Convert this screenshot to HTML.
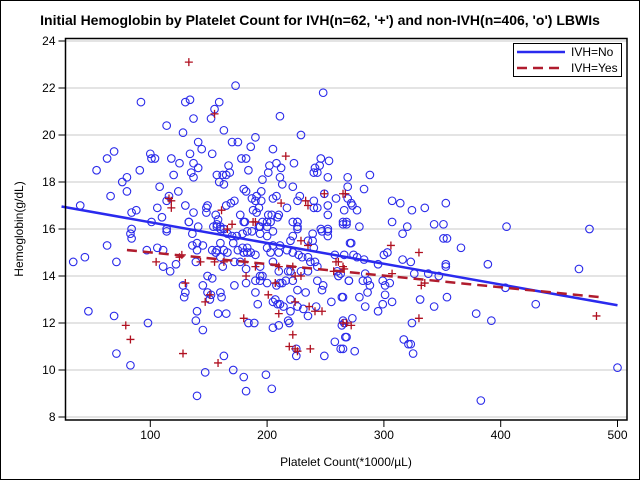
<!DOCTYPE html>
<html><head><meta charset="utf-8"><style>
html,body{margin:0;padding:0;background:#fff;}
svg{display:block;font-family:"Liberation Sans",sans-serif;}
</style></head><body>
<svg id="chart" width="640" height="480" viewBox="0 0 640 480">
<rect x="0.5" y="0.5" width="639" height="479" fill="#fff" stroke="#000"/>
<text x="320" y="25" text-anchor="middle" font-size="14" font-weight="bold">Initial Hemoglobin by Platelet Count for IVH(n=62, '+') and non-IVH(n=406, 'o') LBWIs</text>
<g id="grid"></g>
<g id="marks"></g>
<g id="axes"></g>
<text x="346" y="466" text-anchor="middle" font-size="12">Platelet Count(*1000/µL)</text>
<text transform="translate(23,229) rotate(-90)" text-anchor="middle" font-size="12">Hemoglobin(g/dL)</text>
<g>
<rect x="513.5" y="43.5" width="108" height="33" fill="#fff" stroke="#000"/>
<g><line x1="517" y1="52" x2="565" y2="52" stroke="#2a2aee" stroke-width="2.5"/><text x="571" y="56" font-size="12">IVH=No</text></g>
<g><line x1="517" y1="68" x2="565" y2="68" stroke="#b01c2e" stroke-width="2.5" stroke-dasharray="10,6"/><text x="571" y="72" font-size="12">IVH=Yes</text></g>
</g>
</svg>
<script>
const xTicks=[100,200,300,400,500];
const yTicks=[8,10,12,14,16,18,20,22,24];
const fitNo=[17.17,-0.00883];
const fitYes=[15.5,-0.00495];
const xRangeNo=[24,500];
const xRangeYes=[80,484];
const ivhYes=[[133,23.1],[155,20.9],[216,19.1],[116,17.3],[118,17.2],[118,16.9],[161,16.8],[212,17.1],[233,17.2],[235,17.0],[249,17.5],[265,17.5],[267,17.5],[188,16.3],[170,16.2],[79,11.9],[83,11.3],[105,14.6],[125,14.8],[127,14.9],[128,10.7],[130,13.7],[143,14.6],[147,12.9],[151,13.2],[158,10.3],[180,12.2],[155,14.6],[163,14.6],[181,14.6],[190,16.3],[166,16.0],[190,14.4],[182,14.0],[201,13.2],[210,12.4],[207,13.7],[210,14.4],[229,15.5],[235,15.3],[222,14.4],[224,14.0],[229,14.0],[224,12.9],[236,12.7],[241,12.5],[247,12.5],[222,11.5],[219,11.0],[224,10.9],[226,10.8],[237,10.9],[265,12.0],[259,14.6],[261,14.6],[266,14.3],[257,14.2],[265,14.4],[306,15.3],[330,15.0],[332,13.6],[335,13.7],[307,14.1],[330,12.2],[482,12.3],[268,12.0],[272,11.9]];
const ivhNo=[[173,22.1],[248,21.8],[92,21.4],[130,21.4],[134,21.5],[159,21.4],[155,21.1],[152,20.7],[137,20.7],[114,20.4],[163,20.2],[211,20.8],[128,20.1],[229,20.0],[190,19.9],[141,19.7],[170,19.7],[175,19.7],[144,19.4],[69,19.3],[63,19.0],[100,19.2],[101,19.0],[104,19.0],[118,19.0],[134,19.2],[153,19.2],[186,19.5],[205,19.4],[178,19.0],[182,19.0],[246,19.0],[253,18.9],[54,18.5],[91,18.5],[125,18.8],[137,18.8],[141,18.6],[80,18.2],[76,18.0],[120,18.3],[135,18.4],[137,18.2],[167,18.7],[157,18.3],[162,18.3],[168,18.4],[165,18.3],[159,18.0],[163,17.9],[184,18.5],[202,18.7],[201,18.4],[208,18.8],[212,18.6],[223,18.8],[211,18.2],[213,17.9],[240,18.4],[243,18.4],[241,18.6],[245,18.7],[252,18.2],[269,18.2],[80,17.6],[66,17.4],[108,17.8],[124,17.6],[116,17.4],[114,17.2],[106,16.9],[130,17.0],[84,16.7],[88,16.8],[101,16.3],[110,16.5],[137,16.7],[148,16.9],[149,17.0],[148,16.7],[156,16.6],[158,16.4],[165,17.0],[169,17.1],[172,17.2],[180,17.7],[182,17.6],[191,17.4],[187,17.3],[190,17.2],[195,17.6],[195,17.2],[177,16.6],[181,16.3],[188,16.8],[191,16.7],[193,16.9],[196,18.1],[208,17.4],[205,17.3],[217,16.9],[222,17.8],[228,17.4],[226,17.2],[240,17.2],[240,16.9],[243,16.9],[249,17.5],[252,17.0],[252,16.6],[259,17.3],[266,16.8],[269,17.3],[269,17.8],[201,16.6],[204,16.6],[210,16.6],[209,16.5],[40,17.0],
[34,14.6],[44,14.8],[47,12.5],[63,15.3],[71,14.6],[69,12.3],[71,10.7],[83,10.2],[84,16.0],[83,15.8],[84,15.6],[97,15.1],[98,12.0],[106,15.2],[111,15.1],[111,14.4],[114,15.9],[117,14.2],[122,14.5],[128,13.6],[130,13.3],[129,13.1],[133,16.3],[136,15.8],[136,15.3],[140,15.4],[145,15.3],[140,15.1],[139,14.6],[140,12.5],[139,12.1],[140,8.9],[145,11.7],[147,9.9],[145,13.6],[149,14.0],[153,13.9],[149,13.3],[152,13.2],[151,13.0],[158,12.4],[165,12.4],[160,13.3],[161,13.1],[163,10.6],[171,10.0],[180,9.7],[182,9.1],[184,12.0],[189,12.0],[172,13.6],[154,16.1],[157,16.2],[160,16.1],[163,16.0],[166,15.8],[170,15.7],[171,15.4],[160,15.4],[157,15.1],[163,15.1],[166,15.0],[160,14.8],[156,15.0],[153,15.1],[162,14.4],[172,14.6],[177,14.6],[180,15.0],[183,15.0],[186,15.0],[190,14.9],[183,15.2],[179,15.2],[175,15.1],[174,15.7],[179,15.8],[183,15.9],[187,15.9],[194,15.8],[200,15.7],[205,15.9],[200,16.1],[194,16.1],[180,16.3],[182,14.3],[194,14.4],[182,13.7],[190,13.8],[194,13.8],[194,14.0],[196,14.0],[200,13.7],[190,13.3],[192,12.8],[205,12.9],[209,12.8],[207,13.0],[211,12.8],[214,12.7],[205,11.8],[210,11.9],[199,9.8],[204,9.2],[211,13.7],[208,13.6],[213,13.7],[205,14.6],[210,14.2],[203,15.0],[210,15.0],[205,15.3],[211,15.3],[200,15.2],[217,15.1],[222,15.0],[227,14.9],[220,15.5],[222,15.7],[226,16.0],[226,16.3],[239,15.8],[235,15.5],[230,14.8],[235,14.8],[237,14.6],[241,14.6],[243,14.4],[235,14.2],[229,14.2],[218,14.2],[220,14.2],[222,13.8],[216,13.8],[226,13.4],[233,13.3],[243,13.8],[248,13.6],[247,13.4],[255,12.9],[264,13.1],[220,13.0],[220,12.5],[226,12.7],[231,12.6],[235,12.3],[242,12.7],[218,12.1],[219,12.0],[225,10.6],[225,10.9],[249,10.6],[258,11.2],[263,10.9],[267,11.4],[264,11.9],[265,12.1],[260,14.2],[261,14.0],[270,13.8],[268,16.2],[265,16.2],[271,15.4],[252,15.9],[247,15.9],[252,15.7],[239,15.5],[240,15.2],[258,14.9],[266,14.9],[222,16.3],[226,16.3],[226,16.1],[252,16.0],[246,16.0],[265,16.3],[268,16.3],[203,16.3],[200,16.3],[196,16.3],[193,16.1],[157,16.1],[160,16.0],[133,16.3],[141,16.1],[114,16.0],
[288,18.3],[283,17.7],[272,17.1],[273,17.0],[277,16.8],[307,17.2],[314,17.1],[324,16.8],[335,16.9],[353,17.1],[279,16.1],[307,16.3],[320,16.1],[316,15.8],[343,16.2],[351,16.2],[351,15.6],[354,15.6],[366,15.2],[405,16.1],[476,16.0],[272,15.4],[274,14.9],[277,14.8],[283,14.7],[300,14.9],[303,15.0],[295,14.5],[316,14.7],[323,14.6],[326,14.1],[338,14.1],[347,14.0],[353,14.5],[353,14.4],[389,14.5],[467,14.3],[263,14.1],[270,13.8],[282,13.8],[284,14.1],[286,13.8],[288,13.6],[286,13.3],[279,13.1],[265,13.1],[299,13.8],[301,13.6],[305,13.7],[301,13.2],[299,12.8],[295,12.5],[307,12.9],[284,12.7],[331,13.0],[343,12.7],[354,13.1],[404,13.5],[430,12.8],[379,12.4],[392,12.1],[266,12.0],[273,12.2],[324,12.0],[268,11.4],[265,10.9],[275,10.8],[317,11.3],[321,11.1],[323,11.1],[325,10.7],[383,8.7],[500,10.1]];

const NS='http://www.w3.org/2000/svg';
const L=65.5,R=627,T=38.5,B=420;
function xs(v){return 33.5+v*1.168;}
function ys(v){return 417-(v-8)*23.5;}
function mk(tag,attrs,parent){const e=document.createElementNS(NS,tag);for(const k in attrs)e.setAttribute(k,attrs[k]);parent.appendChild(e);return e;}
const grid=document.getElementById('grid'),marks=document.getElementById('marks'),axes=document.getElementById('axes');
yTicks.forEach(t=>{
  const g=mk('line',{x1:L,x2:R,y1:ys(t),y2:ys(t),stroke:'#dcdcdc','stroke-width':1.5},grid);
  
  
  const tk=mk('line',{x1:L-7,x2:L,y1:ys(t),y2:ys(t),stroke:'#000'},axes);
  
  
  const lb=mk('text',{x:L-10,y:ys(t)+4,'text-anchor':'end','font-size':12},axes);
  lb.textContent=t;
  
  
});
xTicks.forEach(t=>{
  const tk=mk('line',{x1:xs(t),x2:xs(t),y1:B,y2:B+7,stroke:'#000'},axes);
  
  
  const lb=mk('text',{x:xs(t),y:B+19,'text-anchor':'middle','font-size':12},axes);
  lb.textContent=t;
  
  
});
const frame=mk('rect',{x:L,y:T,width:R-L,height:B-T,fill:'none',stroke:'#000','stroke-width':1.5},axes);


ivhNo.forEach(p=>{
  const c=mk('circle',{cx:xs(p[0]),cy:ys(p[1]),r:3.8,fill:'none',stroke:'#2b2bea','stroke-width':1.1},marks);
  
  
});
ivhYes.forEach(p=>{
  const x=xs(p[0]),y=ys(p[1]);
  const c=mk('path',{d:`M${x-4},${y}H${x+4}M${x},${y-4}V${y+4}`,stroke:'#b01020','stroke-width':1.3,fill:'none'},marks);
  
  
});
const ln=mk('line',{x1:xs(xRangeNo[0]),y1:ys(fitNo[0]+fitNo[1]*xRangeNo[0]),x2:xs(xRangeNo[1]),y2:ys(fitNo[0]+fitNo[1]*xRangeNo[1]),stroke:'#2a2aee','stroke-width':2.5},marks);


const ly=mk('line',{x1:xs(xRangeYes[0]),y1:ys(fitYes[0]+fitYes[1]*xRangeYes[0]),x2:xs(xRangeYes[1]),y2:ys(fitYes[0]+fitYes[1]*xRangeYes[1]),stroke:'#b01c2e','stroke-width':2.5,'stroke-dasharray':'10,6'},marks);


</script>
</body></html>
